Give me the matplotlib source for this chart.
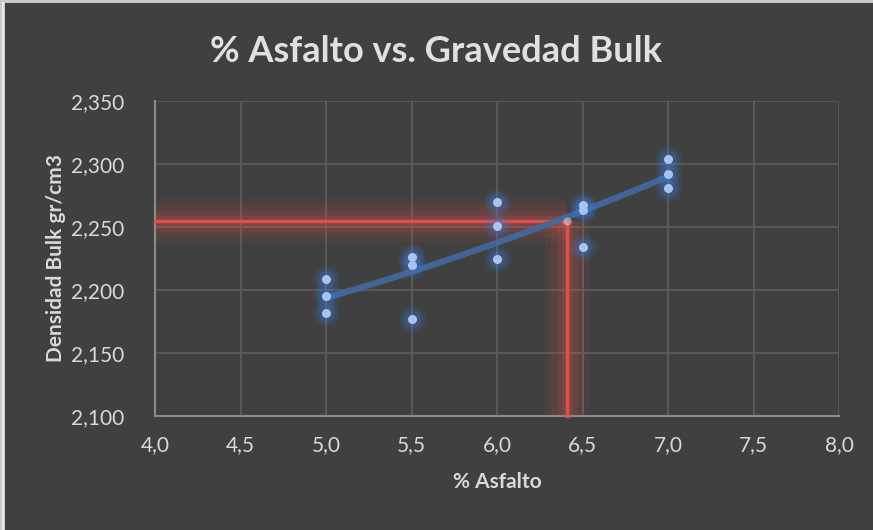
import numpy as np
import matplotlib
matplotlib.use("Agg")
import matplotlib.pyplot as plt
from matplotlib.patches import Rectangle

# ---- data ----
asfalto = [5.0, 5.0, 5.0, 5.5, 5.5, 5.5, 6.0, 6.0, 6.0, 6.5, 6.5, 6.5, 7.0, 7.0, 7.0]
densidad = [2.2087, 2.1955, 2.1817, 2.2262, 2.2196, 2.1770, 2.2700, 2.2505, 2.2246,
            2.2672, 2.2635, 2.2344, 2.3037, 2.2918, 2.2807]
optimo_x = 6.41
optimo_y = 2.255
xticks = [4.0, 4.5, 5.0, 5.5, 6.0, 6.5, 7.0, 7.5, 8.0]
yticks = [2.100, 2.150, 2.200, 2.250, 2.300, 2.350]

BG = "#404040"
FONT = ["Lato", "DejaVu Sans"]
plt.rcParams["font.family"] = FONT

fig = plt.figure(figsize=(8.73, 5.30), dpi=100, facecolor=BG)
ax = fig.add_axes([155/873, 1-416/530, (839-155)/873, (416-101)/530])
ax.set_facecolor(BG)

ax.set_xlim(4.0, 8.0)
ax.set_ylim(2.100, 2.350)
ax.set_xticks(xticks)
ax.set_yticks(yticks)
ax.set_xticklabels([f"{v:.1f}".replace(".", ",") for v in xticks])
ax.set_yticklabels([f"{v:.3f}".replace(".", ",") for v in yticks])
ax.tick_params(length=0, colors="#d9d9d9", labelsize=15)
ax.tick_params(axis="y", pad=22)
ax.tick_params(axis="x", pad=14)
ax.grid(True, color="#5e5e5e", linewidth=1.2)
ax.set_axisbelow(True)
for s in ["top", "right"]:
    ax.spines[s].set_visible(False)
for s in ["left", "bottom"]:
    ax.spines[s].set_color("#8a8a8a")
    ax.spines[s].set_linewidth(1.5)

# red guide lines with glow
red = "#e0504c"
for lw, a in [(32, 0.07), (24, 0.09), (15, 0.12), (8, 0.16)]:
    ax.plot([4.0, optimo_x], [optimo_y, optimo_y], color=red, lw=lw, alpha=a,
            solid_capstyle="butt", zorder=2)
    ax.plot([optimo_x, optimo_x], [2.100, optimo_y], color=red, lw=lw, alpha=a,
            solid_capstyle="butt", zorder=2)
ax.plot([4.0, optimo_x, optimo_x], [optimo_y, optimo_y, 2.100], color=red, lw=2.5,
        zorder=3, clip_on=False)

# quadratic trend line
coef = np.polyfit(asfalto, densidad, 2)
xs = np.linspace(5.0, 7.0, 100)
ax.plot(xs, np.polyval(coef, xs), color="#44689a", lw=4.5, alpha=0.95,
        solid_capstyle="round", zorder=4)

# points with glow
for ms, a in [(20, 0.10), (16, 0.15), (12, 0.22)]:
    ax.plot(asfalto, densidad, "o", ms=ms, color="#3e78d0", alpha=a, mec="none", zorder=5)
ax.plot(asfalto, densidad, "o", ms=6.5, color="#a8c4ee", mec="none", zorder=6)
ax.plot([optimo_x], [optimo_y], "o", ms=6, color="#d8c8c8", alpha=0.6, mec="none", zorder=6)

ax.set_xlabel("% Asfalto", color="#d9d9d9", fontsize=15, fontweight="bold", labelpad=12)
ax.set_ylabel("Densidad Bulk gr/cm3", color="#d9d9d9", fontsize=15, fontweight="bold", labelpad=4)
fig.text(0.5, 1-52/530, "% Asfalto vs. Gravedad Bulk", ha="center", va="center",
         color="#e0e0e0", fontsize=26, fontweight="bold")

# outer frame lines (top and left)
fig.add_artist(Rectangle((0, 1-3/530), 1, 3/530, transform=fig.transFigure,
                         color="#c8c8c8", lw=0))
fig.add_artist(Rectangle((0, 0), 5/873, 1, transform=fig.transFigure,
                         color="#c8c8c8", lw=0))
fig.add_artist(Rectangle((2/873, 0), 2/873, 1-2/530, transform=fig.transFigure,
                         color="#e8e8e8", lw=0))

fig.savefig("out.png", dpi=100, facecolor=BG)
